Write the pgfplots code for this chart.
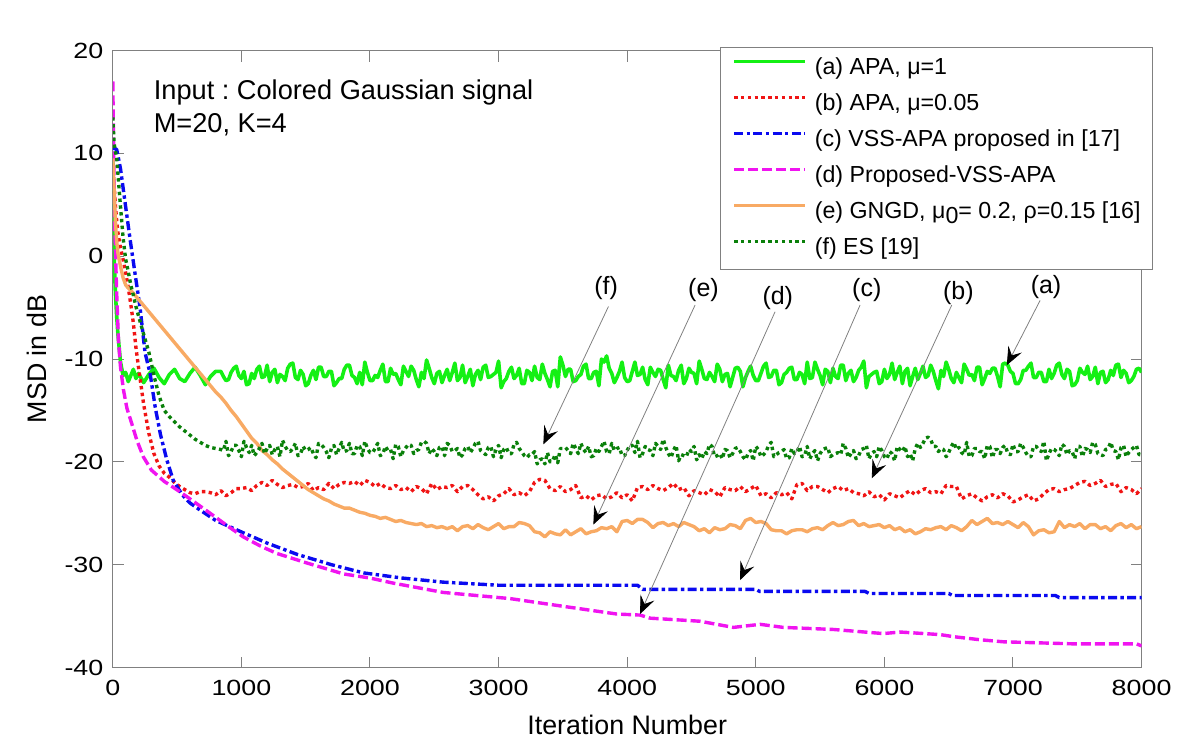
\documentclass[border=0pt]{standalone}
\usepackage{fontspec}
\setmainfont{Liberation Sans}
\usepackage{graphicx}
\usepackage{pgfplots}
\pgfplotsset{compat=1.18}
\usepackage{pgfplotstable}
\usetikzlibrary{arrows.meta}
\frenchspacing

\definecolor{cA}{RGB}{20,240,20}
\definecolor{cB}{RGB}{240,20,20}
\definecolor{cC}{RGB}{10,10,240}
\definecolor{cD}{RGB}{240,20,240}
\definecolor{cE}{RGB}{248,170,100}
\definecolor{cF}{RGB}{10,128,10}
\definecolor{axgray}{RGB}{128,128,128}
\newcommand{\tl}[1]{\scalebox{1.22}[1]{#1}}

% x  a(APA mu=1)  b(APA mu=0.05)  e(GNGD)  f(ES)
\pgfplotstableread{
x a b e f
0 10.0 9.0 9.5 13.5
10 0.0 7.0 6.5 11.0
20 -3.5 5.0 3.5 10.2
30 -5.8 3.5 1.5 9.7
40 -7.6 2.3 0.3 8.0
60 -10.3 0.8 -1.0 4.8
80 -11.6 -0.3 -2.1 1.8
100 -11.3 -1.6 -2.8 -0.3
120 -12.2 -3.0 -3.1 -1.5
140 -11.6 -4.7 -3.35 -2.8
160 -11.0 -6.5 -3.6 -3.8
180 -11.9 -8.9 -3.9 -4.9
200 -11.4 -10.8 -4.2 -5.8
240 -12.3 -14.4 -4.8 -7.6
280 -11.5 -17.2 -5.4 -9.3
320 -10.9 -19.2 -6.0 -11.6
360 -11.8 -20.4 -6.6 -13.6
400 -12.4 -21.1 -7.2 -15.0
440 -11.5 -21.5 -7.8 -15.6
480 -11.0 -22.0 -8.4 -16.1
520 -11.9 -22.4 -9.0 -16.6
560 -12.2 -22.7 -9.6 -17.0
600 -11.4 -23.0 -10.2 -17.4
640 -10.8 -23.1 -10.8 -17.8
680 -11.6 -22.9 -11.4 -18.1
720 -12.5 -22.9 -12.0 -18.4
760 -11.7 -23.0 -12.6 -18.6
800 -11.2 -23.2 -13.2 -18.7
840 -11.2 -22.8 -13.7 -18.8
860 -11.7 nan nan -18.9
880 -12.1 -23.3 -14.3 -18.0
900 -12.0 nan nan -19.4
920 -11.3 -23.0 -15.0 -19.0
940 -10.9 nan nan -18.4
960 -10.7 -22.6 -15.6 -18.4
980 -11.6 nan nan -18.9
1000 -11.9 -22.6 -16.3 -19.5
1020 -11.2 nan nan -18.0
1040 -12.5 -22.5 -17.0 -18.6
1060 -12.4 nan nan -19.1
1080 -11.4 -22.8 -17.7 -18.4
1100 -11.9 nan nan -19.4
1120 -11.0 -22.3 -18.2 -19.1
1140 -10.7 nan nan -18.7
1160 -11.8 -22.0 -18.9 -18.2
1180 -11.7 nan nan -19.2
1200 -10.6 -22.3 -19.3 -18.7
1220 -12.2 nan nan -18.4
1240 -11.3 -21.8 -19.8 -19.3
1260 -11.0 nan nan -18.8
1280 -12.3 -22.2 -20.2 -18.5
1300 -11.5 nan nan -19.5
1320 -11.7 -22.5 -20.7 -17.9
1340 -12.1 nan nan -18.5
1360 -10.9 -22.3 -21.1 -18.9
1380 -10.5 nan nan -19.0
1400 -10.4 -22.2 -21.5 -18.7
1420 -11.8 nan nan -18.2
1440 -12.0 -22.5 -21.9 -19.4
1460 -11.1 nan nan -19.2
1480 -11.5 -22.4 -22.3 -18.5
1500 -12.6 nan nan -18.9
1520 -12.4 -22.1 -22.7 -18.8
1540 -11.6 nan nan -18.6
1560 -11.1 -22.8 -23.0 -19.2
1580 -12.0 nan nan -19.6
1600 -10.8 -22.5 -23.3 -18.2
1620 -10.8 nan nan -18.3
1640 -11.7 -22.7 -23.6 -18.6
1660 -11.7 nan nan -19.0
1680 -11.2 -22.1 -23.8 -19.6
1700 -11.2 nan nan -18.7
1720 -12.6 -22.6 -24.1 -18.4
1740 -12.3 nan nan -19.3
1760 -11.9 -22.2 -24.3 -18.7
1780 -11.9 nan nan -18.1
1800 -11.0 -22.0 -24.5 -19.0
1820 -10.6 nan nan -18.9
1840 -10.6 -22.1 -24.5 -18.2
1860 -11.6 nan nan -19.2
1880 -11.8 -21.9 -24.7 -19.2
1900 -12.4 nan nan -18.4
1920 -11.3 -22.3 -24.9 -18.5
1940 -12.5 nan nan -19.4
1960 -10.3 -21.8 -25.0 -18.0
1980 -11.3 nan nan -18.7
2000 -12.1 -22.0 -25.2 -19.1
2020 -12.1 nan nan -19.1
2040 -11.6 -22.4 -25.3 -18.7
2060 -11.8 nan nan -18.2
2080 -11.1 -22.1 -25.5 -19.4
2100 -10.5 nan nan -19.2
2120 -12.2 -22.5 -25.4 -18.5
2140 -12.2 nan nan -18.9
2160 -10.9 -22.6 -25.6 -18.8
2180 -11.5 nan nan -19.7
2200 -11.4 -22.3 -25.8 -18.3
2220 -12.0 nan nan -18.5
2240 -12.5 -22.7 -25.7 -19.5
2260 -10.7 nan nan -18.9
2280 -11.2 -22.5 -25.9 -18.6
2300 -11.7 nan nan -18.3
2320 -10.7 -22.9 -26.0 -18.4
2340 -11.1 nan nan -19.2
2360 -12.0 -22.4 -26.1 -18.9
2380 -12.7 nan nan -18.8
2400 -11.3 -22.6 -26.0 -18.1
2420 -11.9 nan nan -18.0
2440 -10.1 -23.1 -26.3 -18.2
2460 -10.9 nan nan -19.2
2480 -11.8 -22.1 -26.2 -18.7
2500 -12.4 nan nan -19.0
2520 -11.4 -22.7 -26.4 -19.4
2540 -11.2 nan nan -18.6
2560 -12.3 -22.4 -26.3 -18.5
2580 -11.6 nan nan -19.4
2600 -11.0 -22.5 -26.5 -18.2
2620 -12.1 nan nan -18.4
2640 -11.3 -22.3 -26.3 -19.0
2660 -10.4 nan nan -18.9
2680 -12.1 -22.9 -26.7 -18.7
2700 -11.8 nan nan -19.6
2720 -10.6 -22.4 -26.3 -19.3
2740 -12.3 nan nan -18.7
2760 -11.7 -22.3 -26.2 -18.5
2780 -11.0 nan nan -19.1
2800 -12.6 -22.7 -26.5 -18.7
2820 -11.5 nan nan -18.2
2840 -11.1 -23.2 -26.1 -18.0
2860 -12.0 nan nan -18.9
2880 -10.8 -23.6 -26.4 -19.1
2900 -10.6 nan nan -19.3
2920 -11.8 -23.4 -26.6 -18.6
2940 -11.7 nan nan -18.5
2960 -11.5 -23.8 -26.3 -19.5
2980 -11.3 nan nan -18.8
3000 -10.2 -23.3 -26.0 -18.4
3020 -12.8 nan nan -19.6
3040 -12.2 -23.1 -26.5 -18.8
3060 -11.9 nan nan -18.6
3080 -11.2 -22.6 -26.3 -19.2
3100 -10.8 nan nan -19.2
3120 -11.9 -23.2 -26.3 -18.3
3140 -11.6 nan nan -18.1
3160 -10.9 -23.0 -25.9 -18.7
3180 -12.4 nan nan -19.0
3200 -12.4 -23.3 -26.0 -19.4
3220 -11.1 nan nan -19.6
3240 -11.3 -22.9 -26.2 -19.3
3260 -12.1 nan nan -19.3
3280 -10.7 -22.0 -26.8 -19.0
3300 -11.8 nan nan -20.2
3320 -12.0 -21.7 -26.9 -19.8
3340 -10.5 nan nan -19.7
3360 -11.4 -21.8 -27.3 -20.2
3380 -12.0 nan nan -19.1
3400 -12.7 -22.6 -26.8 -20.0
3420 -11.2 nan nan -19.9
3440 -11.1 -22.8 -27.0 -19.3
3460 -12.7 nan nan -20.1
3480 -9.8 -22.4 -27.1 -18.7
3500 -10.6 nan nan -18.7
3520 -11.7 -22.9 -26.6 -18.6
3540 -11.0 nan nan -18.9
3560 -11.0 -22.7 -27.1 -19.2
3580 -12.2 nan nan -18.2
3600 -12.1 -22.3 -26.8 -18.7
3620 -11.7 nan nan -19.2
3640 -11.5 -23.5 -26.5 -18.2
3660 -10.7 nan nan -18.8
3680 -10.5 -23.3 -27.0 -19.1
3700 -11.9 nan nan -18.5
3720 -11.9 -23.7 -26.8 -19.5
3740 -11.3 nan nan -19.4
3760 -11.2 -23.3 -26.7 -18.7
3780 -12.6 nan nan -19.0
3800 -10.0 -23.2 -26.4 -18.5
3820 -10.3 nan nan -18.0
3840 -9.7 -23.6 -26.5 -19.0
3860 -10.9 nan nan -19.2
3880 -11.4 -23.4 -26.3 -18.2
3900 -12.3 nan nan -18.9
3920 -11.8 -23.0 -26.8 -18.7
3940 -11.2 nan nan -18.6
3960 -10.3 -23.5 -25.8 -19.4
3980 -11.8 nan nan -19.4
4000 -12.2 -23.2 -25.7 -18.9
4020 -12.1 nan nan -18.4
4040 -11.2 -23.8 -26.0 -18.4
4060 -10.3 nan nan -19.1
4080 -11.6 -22.5 -25.6 -18.0
4100 -11.5 nan nan -19.6
4120 -10.8 -22.4 -25.6 -19.2
4140 -12.0 nan nan -18.5
4160 -12.5 -22.7 -25.9 -18.8
4180 -10.8 nan nan -18.9
4200 -11.3 -22.3 -26.4 -19.4
4220 -11.7 nan nan -18.2
4240 -11.0 -22.6 -26.0 -18.5
4260 -11.1 nan nan -18.8
4280 -12.0 -22.8 -25.9 -17.8
4300 -12.8 nan nan -18.6
4320 -10.6 -22.5 -26.2 -19.2
4340 -11.6 nan nan -19.6
4360 -11.7 -22.1 -26.0 -18.9
4380 -12.1 nan nan -18.4
4400 -11.1 -22.7 -26.3 -19.9
4420 -10.6 nan nan -19.3
4440 -12.4 -22.5 -25.9 -19.4
4460 -11.9 nan nan -19.5
4480 -10.9 -23.3 -26.1 -18.8
4500 -11.3 nan nan -19.0
4520 -11.4 -22.8 -26.3 -18.5
4540 -12.4 nan nan -19.8
4560 -10.2 -23.0 -26.7 -19.3
4580 -11.0 nan nan -19.7
4600 -11.9 -23.2 -26.5 -19.0
4620 -12.0 nan nan -19.2
4640 -11.3 -22.7 -26.9 -18.3
4660 -11.7 nan nan -18.5
4680 -12.2 -22.9 -26.4 -19.5
4700 -10.5 nan nan -19.4
4720 -11.0 -23.4 -26.6 -19.2
4740 -12.2 nan nan -19.7
4760 -11.5 -22.5 -26.5 -18.8
4780 -11.4 nan nan -18.9
4800 -12.7 -22.7 -26.1 -19.6
4820 -11.8 nan nan -19.2
4840 -10.9 -22.8 -26.2 -18.7
4860 -10.8 nan nan -18.6
4880 -11.2 -22.4 -26.5 -19.0
4900 -12.7 nan nan -19.5
4920 -11.8 -22.9 -25.7 -19.8
4940 -11.2 nan nan -19.2
4960 -10.7 -22.6 -25.5 -18.9
4980 -11.6 nan nan -19.9
5000 -12.1 -22.3 -25.9 -18.5
5020 -12.1 nan nan -18.8
5040 -11.4 -23.3 -25.8 -19.5
5060 -10.7 nan nan -19.3
5080 -10.4 -23.1 -26.0 -19.0
5100 -11.8 nan nan -18.4
5120 -11.7 -23.5 -26.6 -18.1
5140 -11.1 nan nan -19.5
5160 -11.1 -23.0 -26.7 -19.3
5180 -12.5 nan nan -19.1
5200 -12.3 -23.2 -26.7 -19.0
5220 -11.5 nan nan -18.8
5240 -11.3 -23.0 -27.0 -19.7
5260 -10.9 nan nan -19.6
5280 -10.8 -23.6 -26.7 -18.7
5300 -12.0 nan nan -19.2
5320 -12.0 -22.2 -26.6 -19.0
5340 -11.3 nan nan -18.5
5360 -11.5 -22.1 -26.6 -19.5
5380 -12.4 nan nan -19.4
5400 -10.3 -22.8 -26.8 -18.5
5420 -11.9 nan nan -19.7
5440 -11.8 -22.4 -26.5 -19.2
5460 -10.3 nan nan -18.9
5480 -11.0 -22.4 -26.4 -19.9
5500 -11.6 nan nan -19.2
5520 -12.5 -22.7 -26.6 -18.8
5540 -11.0 nan nan -18.7
5560 -11.2 -23.0 -26.2 -18.6
5580 -12.3 nan nan -19.5
5600 -10.9 -22.6 -25.9 -19.3
5620 -11.7 nan nan -19.2
5640 -11.9 -22.4 -26.2 -19.1
5660 -10.6 nan nan -19.3
5680 -10.6 -22.8 -26.1 -18.2
5700 -12.1 nan nan -18.7
5720 -11.4 -22.6 -25.8 -19.6
5740 -11.1 nan nan -19.2
5760 -12.2 -23.0 -25.7 -18.9
5780 -11.8 nan nan -19.7
5800 -11.1 -23.1 -26.2 -19.4
5820 -10.8 nan nan -18.8
5840 -10.2 -23.3 -26.0 -18.7
5860 -12.8 nan nan -18.4
5880 -11.7 -22.9 -26.3 -19.7
5900 -11.5 nan nan -19.2
5920 -11.3 -23.4 -26.2 -19.0
5940 -11.2 nan nan -19.5
5960 -12.4 -23.2 -26.1 -18.5
5980 -12.2 nan nan -18.9
6000 -11.0 -23.7 -26.4 -19.5
6020 -11.9 nan nan -19.7
6040 -11.5 -23.1 -26.2 -19.0
6060 -10.4 nan nan -19.2
6080 -12.0 -23.3 -26.6 -19.9
6100 -11.3 nan nan -18.5
6120 -10.7 -23.5 -26.4 -18.8
6140 -12.4 nan nan -19.0
6160 -11.2 -23.1 -26.8 -18.5
6180 -10.9 nan nan -19.5
6200 -12.6 -22.8 -26.6 -19.2
6220 -11.7 nan nan -19.9
6240 -10.9 -23.2 -27.0 -18.7
6260 -12.0 nan nan -18.2
6280 -11.4 -22.8 -26.8 -18.6
6300 -10.7 nan nan -18.2
6320 -11.8 -22.6 -26.5 -17.7
6340 -11.6 nan nan -17.6
6360 -10.6 -23.0 -26.6 -17.8
6380 -11.2 nan nan -18.5
6400 -12.1 -22.9 -26.4 -18.5
6420 -12.9 nan nan -19.0
6440 -11.1 -23.1 -26.3 -18.7
6460 -11.7 nan nan -18.8
6480 -10.3 -22.3 -26.6 -19.5
6500 -11.0 nan nan -19.1
6520 -11.9 -22.4 -26.2 -18.5
6540 -12.3 nan nan -18.1
6560 -11.3 -22.4 -26.4 -18.8
6580 -11.8 nan nan -18.6
6600 -12.3 -23.6 -26.7 -19.1
6620 -10.5 nan nan -19.3
6640 -11.0 -23.3 -26.3 -18.1
6660 -11.6 nan nan -19.5
6680 -11.5 -23.1 -25.7 -19.4
6700 -12.1 nan nan -18.7
6720 -10.8 -23.5 -26.1 -18.7
6740 -10.8 nan nan -19.0
6760 -12.5 -23.8 -25.8 -19.0
6780 -11.9 nan nan -19.7
6800 -11.2 -23.4 -25.5 -18.4
6820 -11.4 nan nan -18.5
6840 -10.9 -23.2 -26.0 -19.6
6860 -10.9 nan nan -18.8
6880 -11.7 -23.5 -25.9 -18.8
6900 -12.7 nan nan -19.2
6920 -10.5 -23.1 -26.1 -18.6
6940 -10.4 nan nan -18.4
6960 -10.6 -23.3 -25.8 -19.2
6980 -11.2 nan nan -19.3
7000 -11.4 -23.9 -26.1 -18.3
7020 -12.4 nan nan -19.0
7040 -12.4 -23.7 -26.4 -19.0
7060 -12.0 nan nan -18.2
7080 -11.1 -23.4 -25.9 -18.6
7100 -11.1 nan nan -19.1
7120 -10.7 -23.2 -26.3 -19.5
7140 -10.4 nan nan -19.5
7160 -11.8 -23.8 -27.1 -18.5
7180 -11.8 nan nan -18.5
7200 -11.3 -23.6 -26.7 -18.8
7220 -11.3 nan nan -19.0
7240 -12.2 -23.1 -26.6 -18.0
7260 -12.2 nan nan -19.9
7280 -11.0 -22.7 -26.9 -19.2
7300 -11.9 nan nan -18.7
7320 -11.4 -22.6 -26.8 -18.8
7340 -10.6 nan nan -19.0
7360 -10.4 -22.9 -25.8 -19.4
7380 -11.5 nan nan -18.3
7400 -11.9 -22.7 -26.4 -18.5
7420 -11.0 nan nan -19.3
7440 -11.2 -22.6 -26.1 -18.9
7460 -12.6 nan nan -19.0
7480 -12.5 -22.3 -26.3 -19.7
7500 -12.1 nan nan -18.5
7520 -10.9 -22.0 -26.0 -18.5
7540 -11.3 nan nan -19.5
7560 -11.5 -21.9 -26.5 -18.7
7580 -10.7 nan nan -18.8
7600 -12.0 -22.3 -26.1 -19.1
7620 -11.7 nan nan -18.1
7640 -10.8 -22.1 -26.1 -18.3
7660 -12.4 nan nan -19.2
7680 -11.3 -21.8 -26.5 -19.3
7700 -11.2 nan nan -19.4
7720 -12.3 -22.4 -26.3 -18.8
7740 -12.0 nan nan -18.7
7760 -11.1 -22.2 -26.7 -18.1
7780 -11.6 nan nan -18.9
7800 -10.6 -22.1 -26.2 -19.0
7820 -10.5 nan nan -19.8
7840 -11.8 -22.9 -26.0 -18.6
7860 -11.1 nan nan -18.4
7880 -11.4 -22.5 -26.4 -19.5
7900 -12.3 nan nan -19.1
7920 -12.1 -22.7 -26.1 -18.8
7940 -11.7 nan nan -18.6
7960 -11.0 -23.1 -26.5 -18.4
7980 -10.9 nan nan -19.3
8000 -11.3 -22.6 -26.3 -19.3
}\noisy

\begin{document}
\begin{tikzpicture}
\path[use as bounding box] (-56.4pt,-42.25pt) rectangle (543.6pt,333.75pt);
\begin{axis}[
  at={(0,0)}, anchor=south west,
  scale only axis, width=514.4pt, height=308.5pt,
  xmin=0, xmax=8000, ymin=-40, ymax=20,
  unbounded coords=discard,
  xtick={0,1000,2000,3000,4000,5000,6000,7000,8000},
  xticklabels={\tl{0},\tl{1000},\tl{2000},\tl{3000},\tl{4000},\tl{5000},\tl{6000},\tl{7000},\tl{8000}},
  ytick={-40,-30,-20,-10,0,10,20},
  yticklabels={\tl{-40},\tl{-30},\tl{-20},\tl{-10},\tl{0},\tl{10},\tl{20}},
  tick align=inside, major tick length=5.5pt,
  axis line style={axgray, line width=0.5pt},
  tick style={axgray, line width=0.5pt},
  ticklabel style={font=\fontsize{11}{13}\selectfont, text=black},
  xticklabel style={yshift=-2.6pt},
  yticklabel style={xshift=-1.2pt},
  xlabel={Iteration Number}, ylabel={MSD in dB},
  label style={font=\fontsize{13.4}{15}\selectfont},
  xlabel style={at={(rel axis cs:0.5,-0.093)}, anchor=center},
  ylabel style={at={(rel axis cs:-0.0739,0.5)}, anchor=center},
  legend style={at={(1.0112,1.0062)}, anchor=north east, draw=axgray,
    line width=0.5pt, fill=white, font=\fontsize{11.6}{13}\selectfont,
    inner xsep=6pt, inner ysep=5.2pt, row sep=7pt, column sep=4pt,
    nodes={inner sep=0pt, text height=8.5pt, text depth=2.5pt}},
  legend cell align=left,
  legend image code/.code={\draw[#1, line width=1.7pt] (0pt,3.5pt) -- (35.5pt,3.5pt);},
  every axis plot/.append style={line join=round},
]
\addplot[cA, line width=1.8pt] table[x=x, y=a] {\noisy};
\addlegendentry{(a) APA, μ=1}
\addplot[cB, line width=1.7pt, dash pattern=on 1.7pt off 1.7pt] table[x=x, y=b] {\noisy};
\addlegendentry{(b) APA, μ=0.05}
\addplot[cC, line width=1.7pt, dash pattern=on 4.5pt off 1.7pt on 1.7pt off 1.7pt] coordinates {
(0,10.5) (30,10.4) (60,8.5) (100,4.8) (135,1.6) (173,-1.7) (212,-5) (251,-9.4) (290,-11.4)
(330,-14.7) (370,-17.3) (420,-19.8) (470,-21.8) (540,-23.2) (600,-24)
(680,-24.7) (800,-25.7) (1015,-26.9) (1200,-27.9) (1434,-29) (1700,-30) (1950,-30.8)
(2250,-31.3) (2570,-31.7) (3000,-32.0) (4080,-32.0) (4120,-32.4) (5000,-32.4) (5030,-32.6)
(5850,-32.6) (5880,-32.8) (6500,-32.8) (6530,-33.0) (7330,-33.0) (7360,-33.2) (8000,-33.2)};
\addlegendentry{(c) VSS-APA proposed in [17]}
\addplot[cD, line width=1.7pt, dash pattern=on 5pt off 2pt] coordinates {
(0,17) (5,12) (10,7) (18,1.6) (30,-3.5) (44,-8.2) (60,-10.8) (83,-13) (110,-14.8) (148,-16.3)
(187,-17.9) (237,-19.5) (300,-20.8) (400,-21.9) (497,-22.7) (600,-23.6) (757,-25) (900,-26.3)
(1015,-27.3) (1150,-28.2) (1274,-28.9) (1500,-29.8) (1794,-30.9) (2000,-31.3) (2183,-31.8)
(2570,-32.7) (3090,-33.3) (3530,-34.1) (3919,-34.8) (4100,-34.9) (4178,-35.2) (4566,-35.5)
(4826,-36.1) (5033,-35.8) (5215,-36.1) (5603,-36.3) (5991,-36.7) (6123,-36.55) (6434,-36.8)
(6537,-37.0) (6744,-37.3) (6925,-37.5) (7470,-37.7) (7960,-37.7) (8000,-37.9)};
\addlegendentry{(d) Proposed-VSS-APA}
\addplot[cE, line width=1.7pt] table[x=x, y=e] {\noisy};
\addlegendentry{(e) GNGD, μ\raisebox{-0.4ex}{0}= 0.2, ρ=0.15 [16]}
\addplot[cF, line width=1.7pt, dash pattern=on 1.7pt off 1.7pt] table[x=x, y=f] {\noisy};
\addlegendentry{(f) ES [19]}

% annotations
\node[font=\fontsize{13.6}{15}\selectfont, anchor=base west, inner sep=0pt] at (axis cs:316,15.28) {Input : Colored Gaussian signal};
\node[font=\fontsize{13.6}{15}\selectfont, anchor=base west, inner sep=0pt] at (axis cs:316,12.04) {M=20, K=4};

\tikzset{ann/.style={axgray, line width=0.4pt, -{Stealth[length=9pt, width=7.5pt, inset=3.5pt, black]}},
         annlab/.style={font=\fontsize{12.5}{14}\selectfont, inner sep=0pt}}
\node[annlab] at (axis cs:3836,-3.1) {(f)};
\draw[ann] (axis cs:3854,-4.9) -- (axis cs:3348,-18.3);
\node[annlab] at (axis cs:4593,-3.3) {(e)};
\draw[ann] (axis cs:4528,-4.75) -- (axis cs:3737,-26.1);
\node[annlab] at (axis cs:5171,-4.1) {(d)};
\draw[ann] (axis cs:5150,-5.4) -- (axis cs:4100,-34.8);
\node[annlab] at (axis cs:5863,-3.3) {(c)};
\draw[ann] (axis cs:5811,-4.75) -- (axis cs:4878,-31.5);
\node[annlab] at (axis cs:6575,-3.6) {(b)};
\draw[ann] (axis cs:6524,-4.75) -- (axis cs:5902,-21.6);
\node[annlab] at (axis cs:7257,-3.0) {(a)};
\draw[ann] (axis cs:7211,-4.3) -- (axis cs:6952,-10.6);
\end{axis}
\end{tikzpicture}
\end{document}
